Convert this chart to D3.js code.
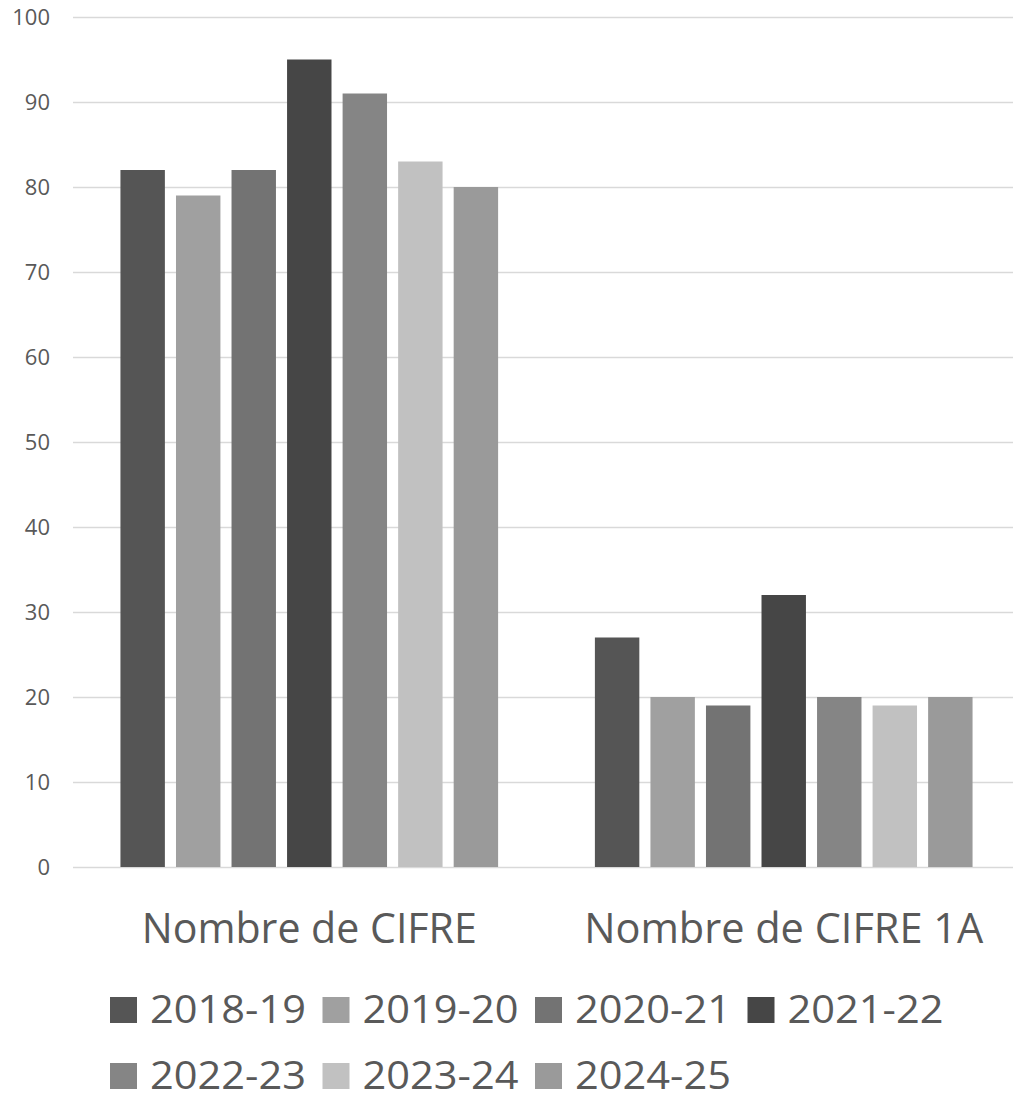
<!DOCTYPE html>
<html>
<head>
<meta charset="utf-8">
<script src="https://cdn.jsdelivr.net/npm/d3@7"></script>
<style>
  body { margin: 0; background: #fff; }
  text { font-family: "Open Sans", sans-serif; fill: #595959; }
</style>
</head>
<body>
<div id="chart"></div>
<script>
// Data
const categories = ["Nombre de CIFRE", "Nombre de CIFRE 1A"]
const seriesNames = ["2018-19", "2019-20", "2020-21", "2021-22", "2022-23", "2023-24", "2024-25"]
const cifre = [82, 79, 82, 95, 91, 83, 80]
const cifre1A = [27, 20, 19, 32, 20, 19, 20]
const seriesColors = ["#555555", "#a0a0a0", "#737373", "#464646", "#858585", "#c1c1c1", "#9a9a9a"]
const yTicks = [0, 10, 20, 30, 40, 50, 60, 70, 80, 90, 100]

const svgWidth = 1013
const svgHeight = 1101

let svg = d3.select("#chart")
  .append("svg")
  .attr("width", svgWidth)
  .attr("height", svgHeight)

let values = [cifre, cifre1A]

let y = d3.scaleLinear()
  .domain([0, 100])
  .range([867, 17])

let x0 = d3.scaleBand()
  .domain(categories)
  .range([73, 1020])
  .paddingInner(0.204)
  .paddingOuter(0.1)

let x1 = d3.scaleBand()
  .domain(seriesNames)
  .range([0, x0.bandwidth()])
  .paddingInner(0.2)

let color = d3.scaleOrdinal()
  .domain(seriesNames)
  .range(seriesColors)

// gridlines + y labels
let yAxis = d3.axisLeft(y)
  .tickValues(yTicks)
  .tickSize(-(svgWidth - 73))
  .tickPadding(23)

let yG = svg.append("g")
  .attr("transform", "translate(73,0)")
  .call(yAxis)

yG.select(".domain").remove()
yG.selectAll(".tick line")
  .attr("stroke", "#d9d9d9")
  .attr("stroke-width", 1.6)
yG.selectAll(".tick text")
  .attr("font-size", 22)
  .attr("dy", "0.36em")
  .style("fill", "#595959")

// bars
let groups = svg.selectAll(".group")
  .data(categories)
  .enter()
  .append("g")
  .attr("class", "group")
  .attr("transform", d => `translate(${x0(d)},0)`)

groups.selectAll("rect")
  .data((d, i) => seriesNames.map((s, j) => ({ s: s, v: values[i][j] })))
  .enter()
  .append("rect")
  .attr("x", d => x1(d.s))
  .attr("y", d => y(d.v))
  .attr("width", x1.bandwidth())
  .attr("height", d => y(0) - y(d.v))
  .attr("fill", d => color(d.s))

// category labels
let catWidths = [335, 399]
svg.selectAll(".cat")
  .data(categories)
  .enter()
  .append("text")
  .attr("class", "cat")
  .attr("x", d => x0(d) + x0.bandwidth() / 2)
  .attr("y", 943)
  .attr("text-anchor", "middle")
  .attr("font-size", 42)
  .attr("textLength", (d, i) => catWidths[i])
  .attr("lengthAdjust", "spacingAndGlyphs")
  .text(d => d)

// legend, 4 per row (second row nudged up so it stays inside the page)
let legend = svg.selectAll(".legend")
  .data(seriesNames)
  .enter()
  .append("g")
  .attr("class", "legend")
  .attr("transform", (d, i) => `translate(${110 + (i % 4) * 212.5}, ${997 + Math.floor(i / 4) * 66})`)

legend.append("rect")
  .attr("width", 27)
  .attr("height", 26)
  .attr("fill", d => color(d))

legend.append("text")
  .attr("x", 40)
  .attr("y", 26)
  .attr("font-size", 39)
  .attr("textLength", 156)
  .attr("lengthAdjust", "spacingAndGlyphs")
  .text(d => d)
</script>
</body>
</html>
